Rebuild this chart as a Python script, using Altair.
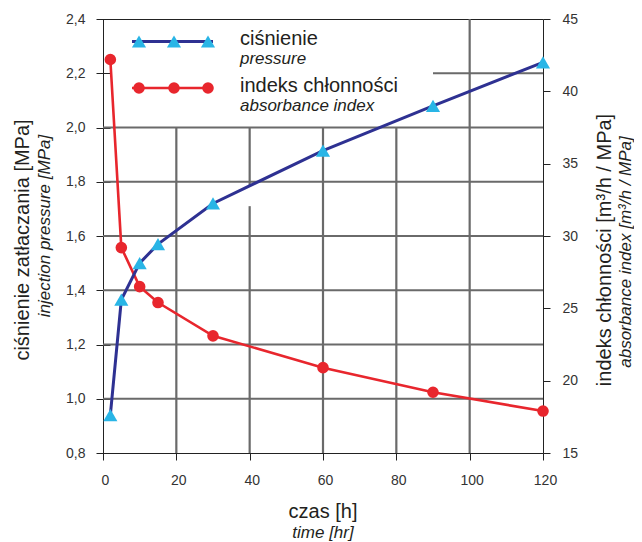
import altair as alt
import pandas as pd

# ---- data ----
time_h = [2, 5, 10, 15, 30, 60, 90, 120]
pressure_mpa = [0.94, 1.365, 1.50, 1.57, 1.72, 1.915, 2.08, 2.24]
absorb_index = [42.2, 29.2, 26.5, 25.4, 23.1, 20.9, 19.2, 17.9]

x_ticks = [0, 20, 40, 60, 80, 100, 120]
left_ticks = [0.8, 1.0, 1.2, 1.4, 1.6, 1.8, 2.0, 2.2, 2.4]
right_ticks = [15, 20, 25, 30, 35, 40, 45]

# grid segments (as drawn in the reference)
vgrid_x = [20, 40, 40, 60, 80, 100]
vgrid_lo = [0.8, 0.8, 1.785, 0.8, 0.8, 0.8]
vgrid_hi = [2.0, 1.71, 2.0, 2.0, 2.0, 2.4]
hgrid_y = [1.0, 1.2, 1.4, 1.6, 1.8, 2.0, 2.2]
hgrid_x0 = [0, 0, 0, 0, 0, 0, 90]
hgrid_x1 = [120, 120, 120, 120, 120, 120, 120]

FONT = "Liberation Sans"
TXT = "#231F20"
LAB = "#333333"
NAVY = "#2E3192"
CYAN = "#29B5E6"
RED = "#E8262D"
GRID = "#6A6A6A"

df = pd.DataFrame({"t": time_h, "p": pressure_mpa, "a": absorb_index})
vg = pd.DataFrame({"x": vgrid_x, "lo": vgrid_lo, "hi": vgrid_hi})
hg = pd.DataFrame({"y": hgrid_y, "x0": hgrid_x0, "x1": hgrid_x1})

x_scale = alt.Scale(domain=[0, 120], nice=False, zero=False)
p_scale = alt.Scale(domain=[0.8, 2.4], nice=False, zero=False)
a_scale = alt.Scale(domain=[15, 45], nice=False, zero=False)

common_ax = dict(labelFont=FONT, labelFontSize=14, labelColor=LAB, tickColor="#222222",
                 tickWidth=1, domain=False, grid=False, title=None)

x_axis = alt.Axis(orient="bottom", values=x_ticks, tickSize=7, labelPadding=13,
                  labelFlush=False, labelOffset=2, **common_ax)
left_axis = alt.Axis(orient="left", values=left_ticks, tickSize=14, offset=-7, labelPadding=11,
                     labelExpr="replace(format(datum.value, '.1f'), '.', ',')", **common_ax)
right_axis = alt.Axis(orient="right", values=right_ticks, tickSize=7, labelPadding=12,
                      format="d", **common_ax)

X = alt.X("t:Q", scale=x_scale, axis=x_axis)

# grid layer (own y scale, same domain as pressure, no axis)
grid_v = alt.Chart(vg).mark_rule(color=GRID, strokeWidth=2.2).encode(
    x=alt.X("x:Q", scale=x_scale, axis=x_axis),
    y=alt.Y("lo:Q", scale=p_scale, axis=None),
    y2="hi:Q",
)
grid_h = alt.Chart(hg).mark_rule(color=GRID, strokeWidth=2.2).encode(
    x=alt.X("x0:Q", scale=x_scale, axis=x_axis),
    x2="x1:Q",
    y=alt.Y("y:Q", scale=p_scale, axis=None),
)
grid = alt.layer(grid_v, grid_h)

# absorbance index (right axis)
red_base = alt.Chart(df).encode(x=X, y=alt.Y("a:Q", scale=a_scale, axis=right_axis))
red = alt.layer(
    red_base.mark_line(color=RED, strokeWidth=2.6),
    red_base.mark_point(shape="circle", filled=True, size=135, color=RED, opacity=1),
)

# pressure (left axis)
blue_base = alt.Chart(df).encode(x=X, y=alt.Y("p:Q", scale=p_scale, axis=left_axis))
blue = alt.layer(
    blue_base.mark_line(color=NAVY, strokeWidth=3),
    blue_base.mark_point(shape="triangle-up", filled=True, size=200, color=CYAN, opacity=1),
)


def label(txt, px, py, size, italic=False, angle=0, align="left"):
    return alt.Chart(alt.Data(values=[{}])).mark_text(
        text=txt, font=FONT, fontSize=size, fontStyle="italic" if italic else "normal",
        angle=angle, align=align, baseline="middle", color=TXT,
    ).encode(x=alt.value(px), y=alt.value(py))


# legend (pixel positions inside the plot area)
leg_marker_x = [36, 71, 105]
legend = [
    alt.Chart(alt.Data(values=[{}])).mark_rule(color=NAVY, strokeWidth=3).encode(
        x=alt.value(29), x2=alt.value(110), y=alt.value(22.5)),
    alt.Chart(alt.Data(values=[{}])).mark_rule(color=RED, strokeWidth=2.6).encode(
        x=alt.value(29), x2=alt.value(110), y=alt.value(69)),
]
for mx in leg_marker_x:
    legend.append(alt.Chart(alt.Data(values=[{}])).mark_point(
        shape="triangle-up", filled=True, size=200, color=CYAN, opacity=1).encode(
        x=alt.value(mx), y=alt.value(22.5)))
    legend.append(alt.Chart(alt.Data(values=[{}])).mark_point(
        shape="circle", filled=True, size=135, color=RED, opacity=1).encode(
        x=alt.value(mx), y=alt.value(69)))

texts = [
    label("ciśnienie", 137, 20, 20),
    label("pressure", 137, 40, 17, italic=True),
    label("indeks chłonności", 137, 67, 20),
    label("absorbance index", 137, 87, 17, italic=True),
    label("ciśnienie zatłaczania [MPa]", -80, 221, 20, angle=270, align="center"),
    label("injection pressure [MPa]", -58, 207, 17, italic=True, angle=270, align="center"),
    label("indeks chłonności [m³/h / MPa]", 502, 231, 20, angle=270, align="center"),
    label("absorbance index [m³/h / MPa]", 523, 233, 17, italic=True, angle=270, align="center"),
    label("czas [h]", 220, 493, 20, align="center"),
    label("time [hr]", 220, 514, 17, italic=True, align="center"),
]

chart = alt.layer(grid, red, blue, *legend, *texts).resolve_scale(y="independent").properties(
    width=440, height=434,
    autosize=alt.AutoSizeParams(type="none"),
    padding={"left": 95, "top": 11, "right": 91, "bottom": 89},
    background="white",
).configure_view(stroke="#222222", strokeWidth=1)

chart.save("out.html", embed_options={"renderer": "svg", "actions": False})
